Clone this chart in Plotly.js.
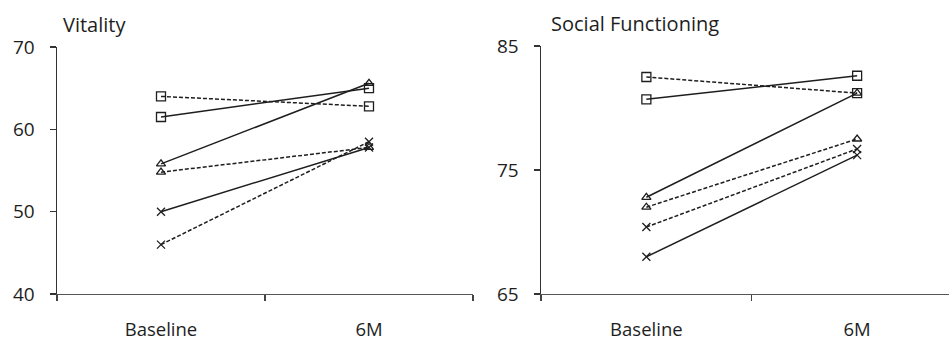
<!DOCTYPE html>
<html>
<head>
<meta charset="utf-8">
<script src="https://cdn.plot.ly/plotly-3.0.1.min.js"></script>
<style>html,body{margin:0;padding:0;background:#fff;}#chart{width:949px;height:343px;}</style>
</head>
<body>
<div id="chart"></div>
<script>
const categories = ["Baseline", "6M"];

// Vitality
const vitSquareSolid = [61.5, 65.0];
const vitSquareDash = [64.0, 62.8];
const vitTriangleSolid = [55.8, 65.6];
const vitTriangleDash = [54.8, 57.8];
const vitCrossSolid = [50.0, 57.8];
const vitCrossDash = [46.0, 58.5];

// Social Functioning
const sfSquareSolid = [80.7, 82.6];
const sfSquareDash = [82.5, 81.2];
const sfTriangleSolid = [72.8, 81.2];
const sfTriangleDash = [72.0, 77.5];
const sfCrossSolid = [68.0, 76.2];
const sfCrossDash = [70.4, 76.7];

const panelTitles = ["Vitality", "Social Functioning"];

const ink = "#1e1e1e";
const FONT = "Open Sans, sans-serif";

function tr(y, symbol, dashed, xa, ya) {
  const size = symbol === "square-open" ? 9 : 8;
  return {
    x: categories, y: y, xaxis: xa, yaxis: ya,
    type: "scatter", mode: "lines+markers", showlegend: false, cliponaxis: false,
    line: {color: ink, width: 1.5, dash: dashed ? "4px,2px" : "solid"},
    marker: {symbol: symbol, size: size, color: ink, line: {color: ink, width: 1.3}}
  };
}

const data = [
  tr(vitSquareSolid, "square-open", false, "x", "y"),
  tr(vitSquareDash, "square-open", true, "x", "y"),
  tr(vitTriangleSolid, "triangle-up-open", false, "x", "y"),
  tr(vitTriangleDash, "triangle-up-open", true, "x", "y"),
  tr(vitCrossSolid, "x-thin-open", false, "x", "y"),
  tr(vitCrossDash, "x-thin-open", true, "x", "y"),
  tr(sfSquareSolid, "square-open", false, "x2", "y2"),
  tr(sfSquareDash, "square-open", true, "x2", "y2"),
  tr(sfTriangleSolid, "triangle-up-open", false, "x2", "y2"),
  tr(sfTriangleDash, "triangle-up-open", true, "x2", "y2"),
  tr(sfCrossSolid, "x-thin-open", false, "x2", "y2"),
  tr(sfCrossDash, "x-thin-open", true, "x2", "y2")
];

const W = 949, H = 343;
function xAxis(domain, range, anchor) {
  return {
    domain: domain, anchor: anchor, type: "category", categoryarray: categories,
    range: range, tickson: "boundaries", ticks: "outside", ticklen: 6, tickwidth: 1.2,
    tickcolor: "#444", showline: true, linecolor: "#555", linewidth: 1.2,
    showgrid: false, zeroline: false, fixedrange: true,
    ticklabelstandoff: 19,
    tickfont: {family: FONT, size: 18.5, color: ink}
  };
}
function yAxis(domain, range, anchor) {
  return {
    domain: domain, anchor: anchor, range: range, tick0: range[0], dtick: 10,
    ticks: "outside", ticklen: 6, tickwidth: 1.2, tickcolor: "#333",
    showline: true, linecolor: "#333", linewidth: 1.5,
    showgrid: false, zeroline: false, fixedrange: true,
    ticklabelstandoff: 11,
    tickfont: {family: FONT, size: 19, color: ink}
  };
}

const layout = {
  width: W, height: H,
  margin: {l: 0, r: 0, t: 0, b: 0},
  paper_bgcolor: "#fff", plot_bgcolor: "#fff",
  xaxis: xAxis([57 / W, 473 / W], [-0.5, 1.5], "y"),
  yaxis: yAxis([49 / H, 296 / H], [40, 70], "x"),
  xaxis2: xAxis([541 / W, 1], [-0.5, 1.436], "y2"),
  yaxis2: yAxis([49 / H, 297 / H], [65, 85], "x2"),
  annotations: [
    {text: panelTitles[0], xref: "paper", yref: "paper", x: 61 / W, y: (H - 24) / H,
     xanchor: "left", yanchor: "middle", showarrow: false,
     font: {family: FONT, size: 20, color: ink}},
    {text: panelTitles[1], xref: "paper", yref: "paper", x: 549 / W, y: (H - 23) / H,
     xanchor: "left", yanchor: "middle", showarrow: false,
     font: {family: FONT, size: 20, color: ink}}
  ]
};

Plotly.newPlot("chart", data, layout, {displayModeBar: false, staticPlot: true});
</script>
</body>
</html>
